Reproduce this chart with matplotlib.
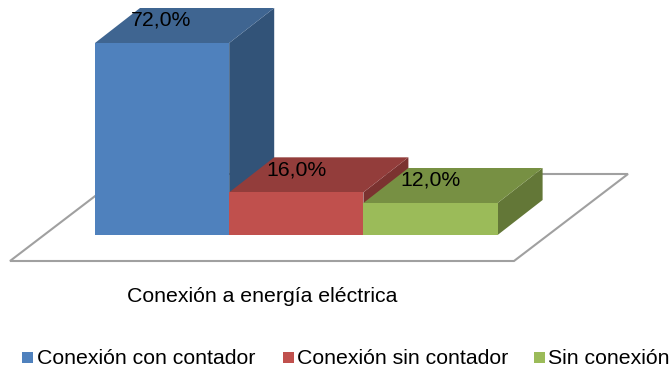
import matplotlib.pyplot as plt
from matplotlib.patches import Polygon, Rectangle

categories = ["Conexión con contador", "Conexión sin contador", "Sin conexión"]
values = [72.0, 16.0, 12.0]
axis_title = "Conexión a energía eléctrica"

front_colors = ["#4F81BD", "#C0504D", "#9BBB59"]
top_colors = ["#3F6591", "#933D3B", "#779043"]
side_colors = ["#325378", "#7B3230", "#637737"]

plt.rcParams['font.family'] = ['Liberation Sans', 'DejaVu Sans']

fig = plt.figure(figsize=(6.7, 3.69), dpi=100)
# axes in picture pixels, y downwards
ax = fig.add_axes([0, 0, 1, 1])
ax.set_xlim(0, 670)
ax.set_ylim(369, 0)
ax.axis("off")

base_y = 235
left = 95
bar_w = 134.2
dx, dy = 45, -35
px_per_unit = 192 / 72.0
font_size = 15.3

# floor
ax.add_patch(Polygon([(10, 261), (514, 261), (628, 174), (124, 174)], closed=True,
                     facecolor="white", edgecolor="#A0A0A0", linewidth=1.5, zorder=1))

label_pos = [(161.5, 20.5), (296, 169.5), (430.5, 180.5)]
for i, val in enumerate(values):
    x0 = left + i * bar_w
    x1 = x0 + bar_w
    h = val * px_per_unit
    y_top = base_y - h
    # draw back to front so the next bar covers the side of this one
    ax.add_patch(Polygon([(x1, base_y), (x1 + dx, base_y + dy), (x1 + dx, y_top + dy), (x1, y_top)],
                         closed=True, facecolor=side_colors[i], edgecolor="none", zorder=2 + i))
    ax.add_patch(Polygon([(x0, y_top), (x0 + dx, y_top + dy), (x1 + dx, y_top + dy), (x1, y_top)],
                         closed=True, facecolor=top_colors[i], edgecolor="none", zorder=2 + i))
    ax.add_patch(Rectangle((x0, y_top), bar_w, h, facecolor=front_colors[i], edgecolor="none", zorder=2 + i))
    ax.text(label_pos[i][0], label_pos[i][1], f"{val:.1f}%".replace(".", ","), fontsize=font_size,
            color="black", ha="center", va="center", zorder=10)

ax.text(262.5, 297, axis_title, fontsize=font_size, color="black", ha="center", va="center")

# legend
key_x = [22, 283, 534]
text_x = [37, 297, 548]
for i, name in enumerate(categories):
    ax.add_patch(Rectangle((key_x[i], 352), 11, 11, facecolor=front_colors[i], edgecolor="none"))
    ax.text(text_x[i], 358, name, fontsize=font_size, color="black", ha="left", va="center")

fig.savefig("out.png", dpi=100, facecolor="white")
plt.close(fig)
